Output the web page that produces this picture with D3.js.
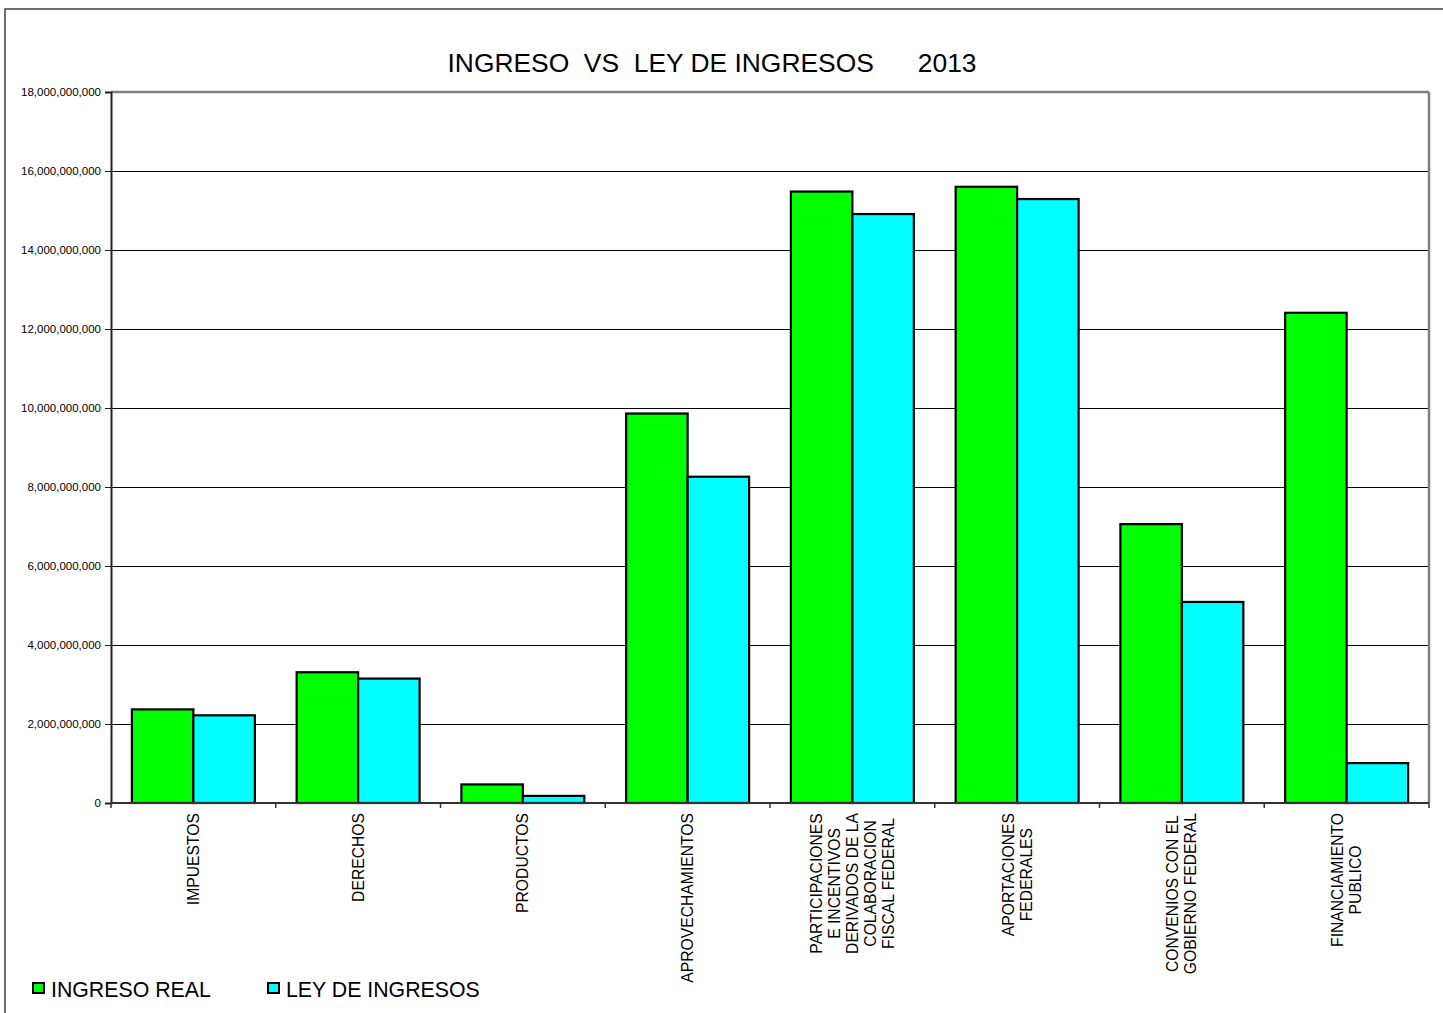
<!DOCTYPE html>
<html>
<head>
<meta charset="utf-8">
<script src="https://cdn.jsdelivr.net/npm/d3@7"></script>
<style>
body { margin: 0; background: #fff; }
text { font-family: Arial, "Liberation Sans", sans-serif; fill: #000; }
</style>
</head>
<body>
<div class="content"></div>
<script>
var categorias = [
	["IMPUESTOS"],
	["DERECHOS"],
	["PRODUCTOS"],
	["APROVECHAMIENTOS"],
	["PARTICIPACIONES", "E INCENTIVOS", "DERIVADOS DE LA", "COLABORACION", "FISCAL FEDERAL"],
	["APORTACIONES", "FEDERALES"],
	["CONVENIOS CON EL", "GOBIERNO FEDERAL"],
	["FINANCIAMIENTO", "PUBLICO"]
];
var ingresoReal = [2.37e9, 3.31e9, 0.47e9, 9.86e9, 15.48e9, 15.60e9, 7.06e9, 12.41e9];
var leyIngresos = [2.22e9, 3.15e9, 0.18e9, 8.26e9, 14.91e9, 15.29e9, 5.09e9, 1.01e9];
var series = ["INGRESO REAL", "LEY DE INGRESOS"];
var colores = ["#00ff00", "#00ffff"];
var yTicks = [0, 2e9, 4e9, 6e9, 8e9, 10e9, 12e9, 14e9, 16e9, 18e9];
var titulo = "INGRESO  VS  LEY DE INGRESOS      2013";

var W = 1443, H = 1013;
var margin = {top: 92, right: 14, bottom: 210, left: 111},
	width = W - margin.left - margin.right,
	height = H - margin.top - margin.bottom;

var svg = d3.select('.content').append("svg").attr("width", W).attr("height", H);

// marco exterior
svg.append("rect").attr("x", 5).attr("y", 9).attr("width", W + 10).attr("height", H + 10)
	.attr("fill", "none").attr("stroke", "#404040").attr("stroke-width", 1.5);

svg.append("text").attr("x", 712).attr("y", 72).attr("text-anchor", "middle")
	.attr("font-size", "26.4px").style("white-space", "pre").text(titulo);

var ctrl = svg.append("g").attr("transform", "translate(" + margin.left + "," + margin.top + ")");

var x = d3.scaleBand().domain(d3.range(categorias.length)).range([0, width]);
var x1 = d3.scaleBand().domain(series).range([0, x.bandwidth()]).paddingOuter(0.34);
var y = d3.scaleLinear().domain([0, 18e9]).range([height, 0]);

// rejilla
ctrl.selectAll("line.grid").data(yTicks.slice(1, -1)).enter().append("line")
	.attr("x1", 0).attr("x2", width).attr("y1", function(d){return y(d) + 0.5;}).attr("y2", function(d){return y(d) + 0.5;})
	.attr("stroke", "#000").attr("stroke-width", 1).attr("shape-rendering", "crispEdges");

// borde del area
ctrl.append("line").attr("x1", 0).attr("x2", width).attr("y1", 0).attr("y2", 0).attr("stroke", "#808080").attr("stroke-width", 2.5);
ctrl.append("line").attr("x1", width).attr("x2", width).attr("y1", 0).attr("y2", height).attr("stroke", "#808080").attr("stroke-width", 2.5);

var datos = categorias.map(function(c, i){ return [ingresoReal[i], leyIngresos[i]]; });
var grupos = ctrl.selectAll("g.cat").data(datos).enter().append("g")
	.attr("transform", function(d, i){ return "translate(" + x(i) + ",0)"; });
grupos.selectAll("rect").data(function(d){ return d.map(function(v, j){ return {s: series[j], v: v, j: j}; }); })
	.enter().append("rect")
	.attr("x", function(d){ return x1(d.s); })
	.attr("width", x1.bandwidth())
	.attr("y", function(d){ return y(d.v); })
	.attr("height", function(d){ return height - y(d.v); })
	.attr("fill", function(d){ return colores[d.j]; })
	.attr("stroke", "#000").attr("stroke-width", 2.2);

// eje Y
var ay = ctrl.append("g").call(d3.axisLeft(y).tickValues(yTicks).tickFormat(d3.format(",")).tickSize(6).tickPadding(4));
ay.select(".domain").attr("stroke", "#222").attr("stroke-width", 2);
ay.selectAll(".tick line").attr("stroke", "#222");
ay.selectAll("text").attr("font-size", "11.5px").attr("font-family", "Arial, 'Liberation Sans', sans-serif");

// eje X
var ax = ctrl.append("g").attr("transform", "translate(0," + height + ")");
ax.append("line").attr("x1", 0).attr("x2", width).attr("stroke", "#333").attr("stroke-width", 2);
ax.selectAll("line.t").data(d3.range(categorias.length + 1)).enter().append("line")
	.attr("x1", function(d){ return d < categorias.length ? x(d) : width; })
	.attr("x2", function(d){ return d < categorias.length ? x(d) : width; })
	.attr("y1", 0).attr("y2", 5).attr("stroke", "#333").attr("stroke-width", 1.5);

var lh = 18;
categorias.forEach(function(lineas, i){
	var cx = x(i) + x.bandwidth() / 2;
	var t = ax.append("text").attr("font-size", "15.7px").attr("text-anchor", "middle");
	var tsp = lineas.map(function(l, k){
		return t.append("tspan").attr("x", 0).attr("y", (k - (lineas.length - 1) / 2) * lh).attr("dy", "0.35em").text(l);
	});
	var maxLen = d3.max(tsp, function(s){ return s.node().getComputedTextLength(); });
	t.attr("transform", "translate(" + cx + "," + (10 + maxLen / 2) + ") rotate(-90)");
});

// leyenda
var lx = [33, 268];
series.forEach(function(s, j){
	svg.append("rect").attr("x", lx[j]).attr("y", 983).attr("width", 11).attr("height", 10)
		.attr("fill", colores[j]).attr("stroke", "#000").attr("stroke-width", 2);
	svg.append("text").attr("x", lx[j] + 18).attr("y", 997).attr("font-size", "21.3px").text(s);
});
</script>
</body>
</html>
